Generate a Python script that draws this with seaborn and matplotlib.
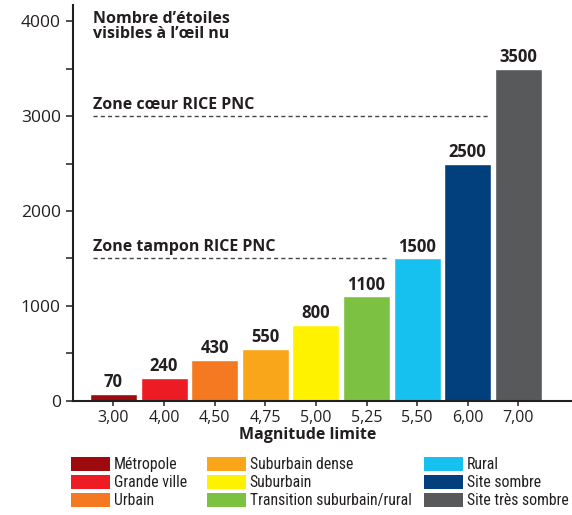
import matplotlib
matplotlib.use("Agg")
import matplotlib.pyplot as plt
from matplotlib import font_manager
from matplotlib.patches import Patch
from matplotlib.ticker import MultipleLocator
import numpy as np
import pandas as pd
import seaborn as sns

# data
magnitudes = ["3,00", "4,00", "4,50", "4,75", "5,00", "5,25", "5,50", "6,00", "7,00"]
stars = [70, 240, 430, 550, 800, 1100, 1500, 2500, 3500]
categories = ["Métropole", "Grande ville", "Urbain", "Suburbain dense", "Suburbain",
              "Transition suburbain/rural", "Rural", "Site sombre", "Site très sombre"]
colors = ["#9e0b0f", "#ed1c24", "#f47920", "#f9a61a", "#fff200",
          "#7dc142", "#16c1f0", "#023f7d", "#58595b"]
zone_levels = [3000, 1500]
zone_labels = ["Zone cœur RICE PNC", "Zone tampon RICE PNC"]

INK = "#231f20"

sns.set_theme(style="white")
names = {f.name for f in font_manager.fontManager.ttflist}
main_font = "Open Sans" if "Open Sans" in names else "DejaVu Sans"
cond_font = next((n for n in ["Roboto Condensed", "Liberation Sans Narrow",
                              "Open Sans Condensed", "Noto Sans"] if n in names), main_font)
plt.rcParams["font.family"] = [main_font, "DejaVu Sans"]
plt.rcParams["text.color"] = INK

df = pd.DataFrame({"magnitude": magnitudes, "stars": stars, "category": categories})

fig = plt.figure(figsize=(5.72, 5.15), dpi=100)
ax = fig.add_axes([0.127, 0.222, 0.873, 0.768])

sns.barplot(data=df, x="magnitude", y="stars", hue="category", hue_order=categories,
            palette=colors, dodge=False, width=0.93, saturation=1, legend=False, ax=ax)

for c in ax.containers:
    ax.bar_label(c, fmt="%d", padding=2, fontsize=12, fontweight="bold", color=INK)

# dashed reference lines, ending just before the first bar that reaches them
for level, label in zip(zone_levels, zone_labels):
    first = int(np.argmax(np.array(stars) >= level))
    ax.hlines(level, -0.405, first - 0.465 - 0.1, colors="#444444",
              linestyles=(0, (3, 2.2)), linewidth=1)
    ax.text(-0.405, level + 80, label, fontsize=11.5, fontweight="bold",
            va="baseline", ha="left")

ax.text(-0.40, 4110, "Nombre d’étoiles\nvisibles à l’œil nu", fontsize=11.5,
        fontweight="bold", va="top", ha="left", linespacing=0.9)

ax.set_xlim(-0.806, 9.06)
ax.set_ylim(0, 4170)
ax.yaxis.set_major_locator(MultipleLocator(1000))
ax.yaxis.set_minor_locator(MultipleLocator(500))
ax.set_ylabel("")
ax.set_xlabel("Magnitude limite", fontsize=11.5, fontweight="bold", color=INK)
ax.xaxis.set_label_coords(0.47, -0.066)

sns.despine(ax=ax)
for side in ["left", "bottom"]:
    ax.spines[side].set_color(INK)
    ax.spines[side].set_linewidth(1.5)

ax.tick_params(axis="y", which="both", left=True, length=5, width=1.1, color=INK,
               labelsize=12.5, labelcolor=INK, pad=3.5)
ax.tick_params(axis="x", bottom=True, length=3.5, width=1.1, color=INK,
               labelsize=11.5, labelcolor=INK, pad=3)

# legend in three columns
col_x = [71, 207, 424]
for k, x0 in enumerate(col_x):
    handles = [Patch(facecolor=colors[i], edgecolor="none", label=categories[i])
               for i in range(3 * k, 3 * k + 3)]
    fig.legend(handles=handles, loc="upper left", bbox_to_anchor=(x0 / 572, 1 - 457 / 515),
               frameon=False, borderpad=0, borderaxespad=0, handlelength=2.48,
               handleheight=0.95, handletextpad=0.25, labelspacing=0.19,
               prop={"family": cond_font, "size": 11.3})

fig.savefig("out.png", dpi=100)
